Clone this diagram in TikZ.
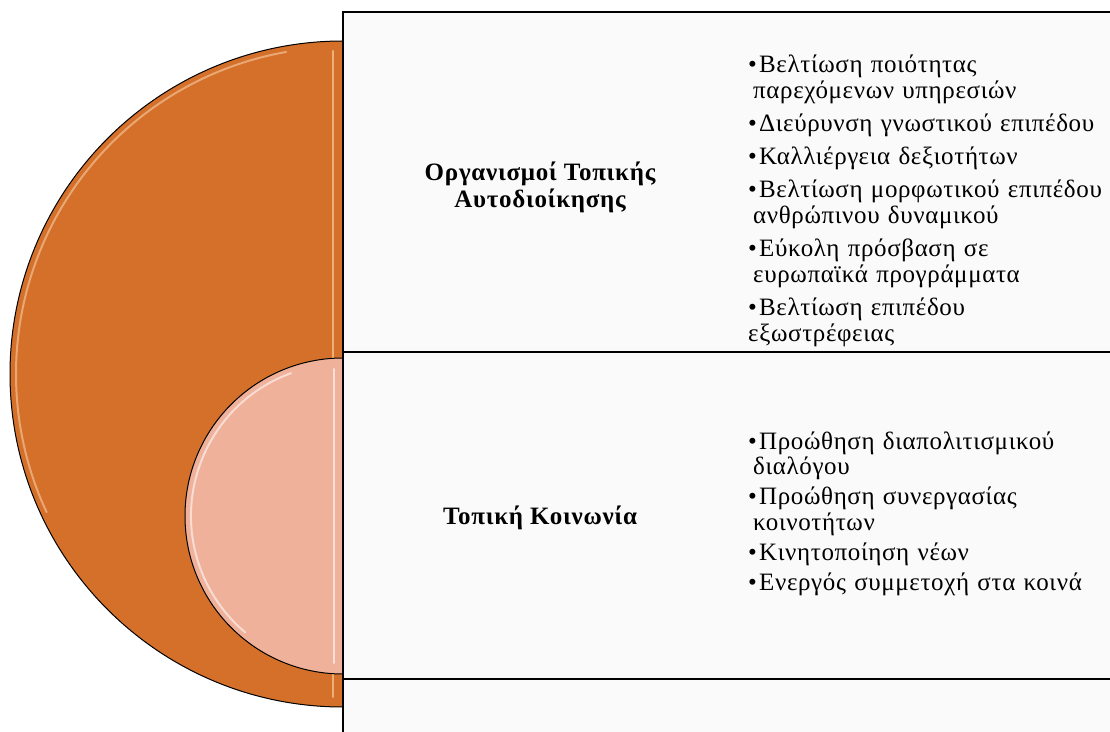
\documentclass[tikz,border=0pt]{standalone}
\usepackage{fontspec}
\setmainfont[LetterSpace=3]{Liberation Serif}
\newfontfamily\listfont[LetterSpace=2.5]{Liberation Serif}
\definecolor{burntorange}{RGB}{212,112,42}
\definecolor{salmonpink}{RGB}{240,177,155}
\definecolor{panelgray}{RGB}{250,250,250}
\newcommand{\itm}[1]{\par\hangindent=5pt\hangafter=1\noindent\makebox[11pt][l]{•}#1}

\begin{document}
\begin{tikzpicture}[x=1pt,y=1pt]
	\tikzstyle{halfdisk} = [draw=black,line width=1pt]
	\tikzstyle{shine} = [line width=2pt,opacity=0.6,line cap=round]
	\tikzstyle{panel} = [fill=panelgray,draw=black,line width=1.5pt]
	\tikzstyle{heading} = [font=\bfseries\fontsize{25}{27}\selectfont,align=center]
	\tikzstyle{points} = [font=\listfont\fontsize{25}{26}\selectfont,text width=380pt,align=left,inner sep=0pt,anchor=north west]
	\useasboundingbox (0,0) rectangle (1110,731);
	\clip (0,0) rectangle (1110,731);
	% big half disk
	\filldraw[halfdisk,fill=burntorange] (343,690) arc[start angle=90,end angle=270,radius=333] -- cycle;
	\draw[shine,orange!25!white,opacity=0.5] (343,357) ++(100:327) arc[start angle=100,end angle=205,radius=327];
	\draw[shine,orange!30!white] (333,680) -- (333,34);
	% small half disk
	\filldraw[halfdisk,fill=salmonpink] (343,373) arc[start angle=90,end angle=270,radius=158] -- cycle;
	\draw[shine,white,opacity=0.55] (343,215) ++(110:152) arc[start angle=110,end angle=230,radius=152];
	\draw[shine,white] (334,362) -- (334,68);
	% panels
	\draw[panel] (343,719) rectangle (1125,379);
	\draw[panel] (343,379) rectangle (1125,52);
	\draw[panel] (343,52) rectangle (1125,-20);
	% texts
	\node[heading] (head1) at (540,544) {Οργανισμοί Τοπικής\\Αυτοδιοίκησης};
	\node[heading] (head2) at (540,213) {Τοπική Κοινωνία};
	\node[points] (list1) at (748,692) {%
		\setlength{\parskip}{7pt}%
		\itm{Βελτίωση ποιότητας\newline παρεχόμενων υπηρεσιών}
		\itm{Διεύρυνση γνωστικού επιπέδου}
		\itm{Καλλιέργεια δεξιοτήτων}
		\itm{Βελτίωση μορφωτικού επιπέδου\newline ανθρώπινου δυναμικού}
		\itm{Εύκολη πρόσβαση σε\newline ευρωπαϊκά προγράμματα}
		\itm{Βελτίωση επιπέδου\newline εξωστρέφειας}};
	\node[points,font=\listfont\fontsize{25}{25.5}\selectfont] (list2) at (748,312) {%
		\setlength{\parskip}{4.5pt}%
		\itm{Προώθηση διαπολιτισμικού\newline διαλόγου}
		\itm{Προώθηση συνεργασίας\newline κοινοτήτων}
		\itm{Κινητοποίηση νέων}
		\itm{Ενεργός συμμετοχή στα κοινά}};
\end{tikzpicture}
\end{document}
